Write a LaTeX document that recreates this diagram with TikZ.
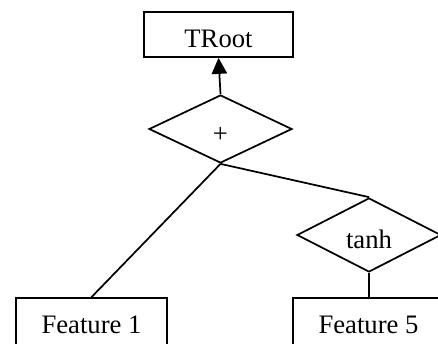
\documentclass[tikz,border=0pt]{standalone}
\usepackage{fontspec}
\setmainfont{Liberation Serif}
\usetikzlibrary{arrows.meta,shapes.geometric}

\tikzset{
  box/.style={draw,rectangle,line width=1.3pt,inner sep=0pt,
    minimum width={151*0.75pt},minimum height={45*0.75pt},
    text height=20pt,text depth=0pt,font=\fontsize{20}{24}\selectfont},
  leaf/.style={box,minimum height={49*0.75pt},text height=17pt},
  op/.style={draw,diamond,line width=1.3pt,inner sep=0pt,
    text height=19.5pt,text depth=0pt,font=\fontsize{20}{24}\selectfont},
  link/.style={line width=1.3pt}
}

\begin{document}
\begin{tikzpicture}[x=0.75pt,y=-0.75pt]
\useasboundingbox (0,0) rectangle (438,343);
\clip (0,0) rectangle (438,343);

% root
\node[box,minimum width={149*0.75pt}] (root) at (218.5,34.5) {TRoot};

% operators
\node[op,minimum width={143*0.75pt},minimum height={68*0.75pt}] (plus) at (220.5,129) {+};
\node[op,minimum width={144*0.75pt},minimum height={74*0.75pt}] (tanh) at (369,235) {tanh};

% leaves
\node[leaf] (f1) at (91.5,322.5) {Feature 1};
\node[leaf] (f5) at (368.5,322.5) {Feature 5};

\draw[link,-{Triangle[length=12pt,width=11.5pt]}] (plus.north) -- (root.south);
\draw[link] (plus.south) -- (f1.north);
\draw[link] (plus.south) -- (tanh.north);
\draw[link] (tanh.south) -- (tanh.south |- f5.north);
\end{tikzpicture}
\end{document}
